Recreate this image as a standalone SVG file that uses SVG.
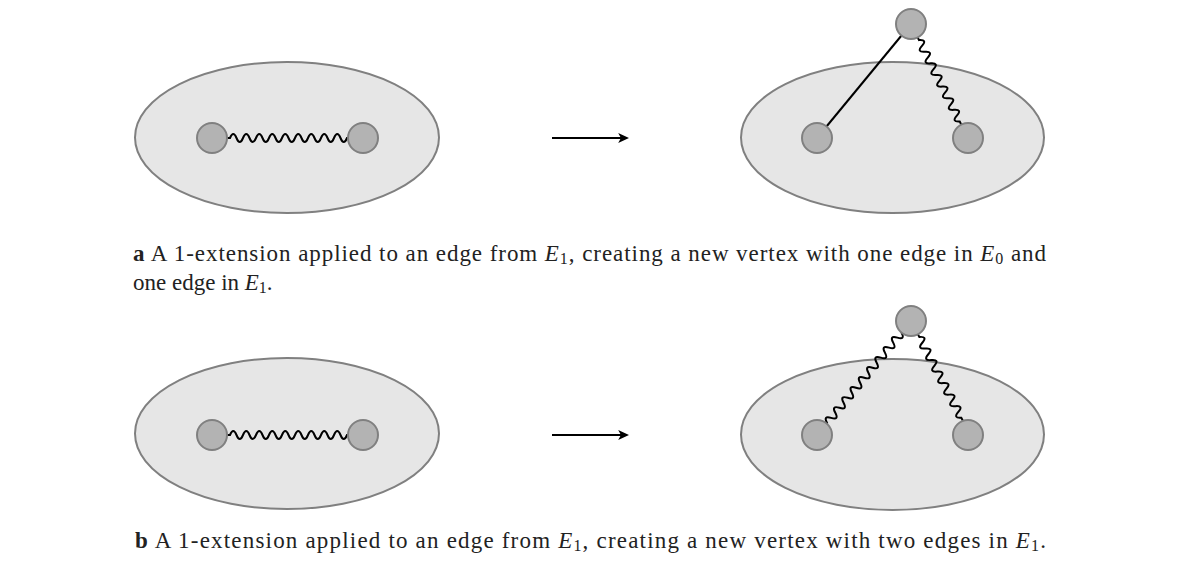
<svg xmlns="http://www.w3.org/2000/svg" width="1184" height="562" viewBox="0 0 1184 562">
<style>
.region{fill:#e6e6e6;stroke:#808080;stroke-width:2}
.vertex{fill:#b3b3b3;stroke:#808080;stroke-width:2}
.edge{fill:none;stroke:#000;stroke-width:2}
.arrow{fill:none;stroke:#000;stroke-width:2}
.cap{font-family:"Liberation Serif","DejaVu Serif",serif;font-size:23px;fill:#222}
.b{font-weight:bold}
.i{font-style:italic}
.sub{font-size:16px}
</style>
<defs>
<marker id="ah" viewBox="0 0 10 10" refX="8" refY="5" markerWidth="11" markerHeight="10" markerUnits="userSpaceOnUse" orient="auto" preserveAspectRatio="none">
<path d="M0,0 L10,5 L0,10 L2.5,5 Z" fill="#000"/>
</marker>
</defs>

<g id="regions">
<ellipse id="region-a-left" class="region" cx="287" cy="137.5" rx="152" ry="75.5"/>
<ellipse id="region-a-right" class="region" cx="892.5" cy="137.5" rx="151.5" ry="75.5"/>
<ellipse id="region-b-left" class="region" cx="287" cy="433.5" rx="152" ry="75.5"/>
<ellipse id="region-b-right" class="region" cx="892.5" cy="434.5" rx="151.5" ry="75.5"/>
</g>

<g id="connectors">
<path class="edge" transform="translate(212,138)" d="M0,0 h18 q3.25,-8 6.5,0 q3.25,8 6.5,0 q3.25,-8 6.5,0 q3.25,8 6.5,0 q3.25,-8 6.5,0 q3.25,8 6.5,0 q3.25,-8 6.5,0 q3.25,8 6.5,0 q3.25,-8 6.5,0 q3.25,8 6.5,0 q3.25,-8 6.5,0 q3.25,8 6.5,0 q3.25,-8 6.5,0 q3.25,8 6.5,0 q3.25,-8 6.5,0 q3.25,8 6.5,0 q3.25,-8 6.5,0 q3.25,8 6.5,0 h16"/>
<line class="edge" x1="911" y1="24" x2="817" y2="138"/>
<path class="edge" transform="translate(911,24) rotate(63.43)" d="M0,0 h18 q3.25,-8 6.5,0 q3.25,8 6.5,0 q3.25,-8 6.5,0 q3.25,8 6.5,0 q3.25,-8 6.5,0 q3.25,8 6.5,0 q3.25,-8 6.5,0 q3.25,8 6.5,0 q3.25,-8 6.5,0 q3.25,8 6.5,0 q3.25,-8 6.5,0 q3.25,8 6.5,0 q3.25,-8 6.5,0 q3.25,8 6.5,0 h18.5"/>
<path class="edge" transform="translate(212,435)" d="M0,0 h18 q3.25,-8 6.5,0 q3.25,8 6.5,0 q3.25,-8 6.5,0 q3.25,8 6.5,0 q3.25,-8 6.5,0 q3.25,8 6.5,0 q3.25,-8 6.5,0 q3.25,8 6.5,0 q3.25,-8 6.5,0 q3.25,8 6.5,0 q3.25,-8 6.5,0 q3.25,8 6.5,0 q3.25,-8 6.5,0 q3.25,8 6.5,0 q3.25,-8 6.5,0 q3.25,8 6.5,0 q3.25,-8 6.5,0 q3.25,8 6.5,0 h16"/>
<path class="edge" transform="translate(911,321) rotate(129.5)" d="M0,0 h15 q3.25,-8 6.5,0 q3.25,8 6.5,0 q3.25,-8 6.5,0 q3.25,8 6.5,0 q3.25,-8 6.5,0 q3.25,8 6.5,0 q3.25,-8 6.5,0 q3.25,8 6.5,0 q3.25,-8 6.5,0 q3.25,8 6.5,0 q3.25,-8 6.5,0 q3.25,8 6.5,0 q3.25,-8 6.5,0 q3.25,8 6.5,0 q3.25,-8 6.5,0 q3.25,8 6.5,0 q3.25,-8 6.5,0 q3.25,8 6.5,0 h15.8"/>
<path class="edge" transform="translate(911,321) rotate(62.5)" d="M0,0 h18 q3.25,-8 6.5,0 q3.25,8 6.5,0 q3.25,-8 6.5,0 q3.25,8 6.5,0 q3.25,-8 6.5,0 q3.25,8 6.5,0 q3.25,-8 6.5,0 q3.25,8 6.5,0 q3.25,-8 6.5,0 q3.25,8 6.5,0 q3.25,-8 6.5,0 q3.25,8 6.5,0 q3.25,-8 6.5,0 q3.25,8 6.5,0 h19"/>
<line class="arrow" x1="552" y1="138" x2="627" y2="138" marker-end="url(#ah)"/>
<line class="arrow" x1="552" y1="435" x2="627" y2="435" marker-end="url(#ah)"/>
</g>

<g id="v-a-l1"><circle class="vertex" cx="212" cy="138" r="15"/></g>
<g id="v-a-l2"><circle class="vertex" cx="363" cy="138" r="15"/></g>
<g id="v-a-r1"><circle class="vertex" cx="817" cy="138" r="15"/></g>
<g id="v-a-r2"><circle class="vertex" cx="968" cy="138" r="15"/></g>
<g id="v-a-r3"><circle class="vertex" cx="911" cy="24" r="15"/></g>
<g id="v-b-l1"><circle class="vertex" cx="212" cy="435" r="15"/></g>
<g id="v-b-l2"><circle class="vertex" cx="363" cy="435" r="15"/></g>
<g id="v-b-r1"><circle class="vertex" cx="817" cy="435" r="15"/></g>
<g id="v-b-r2"><circle class="vertex" cx="968" cy="435" r="15"/></g>
<g id="v-b-r3"><circle class="vertex" cx="911" cy="321" r="15"/></g>

<g id="caption-a">
<text class="cap" x="133" y="261" textLength="913" lengthAdjust="spacing"><tspan class="b">a</tspan> A 1-extension applied to an edge from <tspan class="i">E</tspan><tspan class="sub" dy="3">1</tspan><tspan dy="-3">, creating a new vertex with one edge in </tspan><tspan class="i">E</tspan><tspan class="sub" dy="3">0</tspan><tspan dy="-3"> and</tspan></text>
<text class="cap" x="133" y="290">one edge in <tspan class="i">E</tspan><tspan class="sub" dy="3">1</tspan><tspan dy="-3">.</tspan></text>
</g>
<g id="caption-b">
<text class="cap" x="135" y="548" textLength="911" lengthAdjust="spacing"><tspan class="b">b</tspan> A 1-extension applied to an edge from <tspan class="i">E</tspan><tspan class="sub" dy="3">1</tspan><tspan dy="-3">, creating a new vertex with two edges in </tspan><tspan class="i">E</tspan><tspan class="sub" dy="3">1</tspan><tspan dy="-3">.</tspan></text>
</g>
</svg>
